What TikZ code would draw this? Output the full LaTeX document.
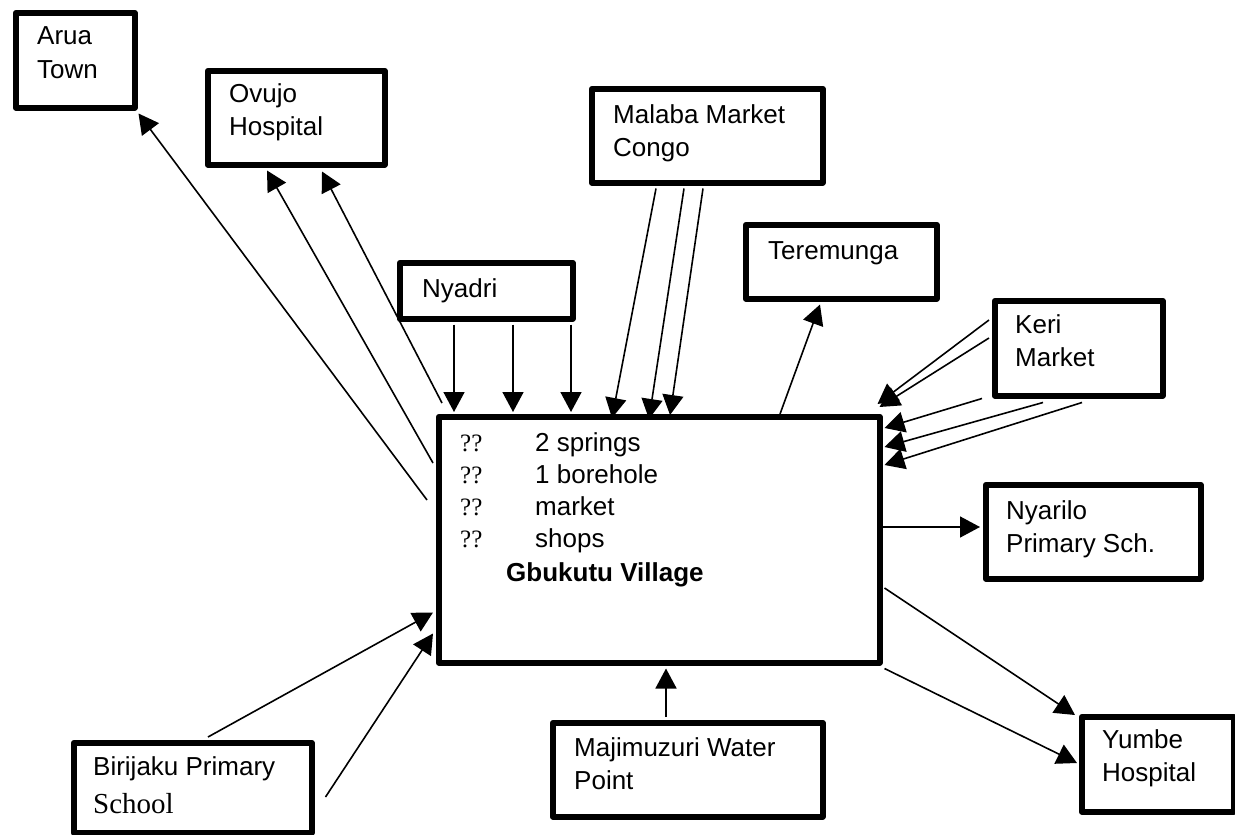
\documentclass[tikz,border=0pt]{standalone}
\usepackage{fontspec}
\setmainfont{Liberation Sans}
\newfontfamily\serifface{Liberation Serif}
\usetikzlibrary{arrows.meta,calc}
\newcommand{\twol}[2]{\begin{tabular}[t]{@{}l@{}}#1\\#2\end{tabular}}
\begin{document}
\begin{tikzpicture}[x=1pt,y=-1pt,
  place/.style={draw, line width=5.5pt, line join=round, inner sep=0pt, anchor=north west},
  lbl/.style={anchor=base west, inner sep=0pt, font=\fontsize{26pt}{33pt}\selectfont},
  qm/.style={anchor=base west, inner sep=0pt, font=\serifface\fontsize{25pt}{33pt}\selectfont},
  arr/.style={line width=1.6pt, -{Triangle[length=20pt,width=21pt]}}]
\useasboundingbox (0,0) rectangle (1235,835);

% boxes
\node[place, minimum width=119pt, minimum height=95pt] (arua) at (13,10) {};
\node[place, minimum width=177pt, minimum height=94pt] (ovujo) at (205,68) {};
\node[place, minimum width=231pt, minimum height=94pt] (malaba) at (589,86) {};
\node[place, minimum width=173pt, minimum height=56pt] (nyadri) at (397,260) {};
\node[place, minimum width=191pt, minimum height=74pt] (teremunga) at (743,222) {};
\node[place, minimum width=168pt, minimum height=95pt] (keri) at (992,298) {};
\node[place, minimum width=441pt, minimum height=246pt] (main) at (436,414) {};
\node[place, minimum width=215pt, minimum height=94pt] (nyarilo) at (983,482) {};
\node[place, minimum width=152pt, minimum height=95pt] (yumbe) at (1079,714) {};
\node[place, minimum width=270pt, minimum height=94pt] (maji) at (550,720) {};
\node[place, minimum width=238pt, minimum height=90pt] (birijaku) at (71,740) {};

% texts
\node[lbl] (tarua) at (37,45) {\twol{Arua}{Town}};
\node[lbl] (tovujo) at (229,102) {\twol{Ovujo}{Hospital}};
\node[lbl] (tmalaba) at (613,123) {\twol{Malaba Market}{Congo}};
\node[lbl] (tnyadri) at (422,297) {Nyadri};
\node[lbl] (ttere) at (768,259) {Teremunga};
\node[lbl] (tkeri) at (1015,333) {\twol{Keri}{Market}};
\node[lbl] (tnyarilo) at (1006,519) {\twol{Nyarilo}{Primary Sch.}};
\node[lbl] (tyumbe) at (1102,748) {\twol{Yumbe}{Hospital}};
\node[lbl] (tmaji) at (574,756) {\twol{Majimuzuri Water}{Point}};
\node[lbl] (tbiri) at (93,775) {Birijaku Primary};
\node[anchor=base west, inner sep=0pt, font=\serifface\fontsize{29pt}{33pt}\selectfont] (tschool) at (93,813) {School};

\node[qm] (q1) at (460,451) {??};
\node[qm] (q2) at (460,483) {??};
\node[qm] (q3) at (460,515) {??};
\node[qm] (q4) at (460,547) {??};
\node[lbl] (m1) at (535,451) {2 springs};
\node[lbl] (m2) at (535,483) {1 borehole};
\node[lbl] (m3) at (535,515) {market};
\node[lbl] (m4) at (535,547) {shops};
\node[lbl, font=\bfseries\fontsize{26pt}{33pt}\selectfont] (mname) at (506,581) {Gbukutu Village};

% connectors
\draw[arr] ($(main.north west)+(-9,86)$) -- ($(arua.south east)+(1,3)$);
\draw[arr] ($(main.north west)+(-3,49)$) -- ($(ovujo.south west)+(62,3)$);
\draw[arr] ($(main.north west)+(6,-11)$) -- ($(ovujo.south west)+(117,4)$);

\draw[arr] ($(nyadri.south west)+(57,3)$) -- ($(main.north west)+(18,-2)$);
\draw[arr] ($(nyadri.south west)+(116,3)$) -- ($(main.north west)+(77,-2)$);
\draw[arr] ($(nyadri.south west)+(174,3)$) -- ($(main.north west)+(135,-2)$);

\draw[arr] ($(malaba.south west)+(67,3)$) -- ($(main.north west)+(176,4)$);
\draw[arr] ($(malaba.south west)+(95,3)$) -- ($(main.north west)+(213,5)$);
\draw[arr] ($(malaba.south west)+(114,3)$) -- ($(main.north west)+(234,1)$);

\draw[arr] ($(main.north west)+(344,0)$) -- ($(teremunga.south west)+(77,3)$);

\draw[arr] ($(keri.north west)+(-3,22)$) -- ($(main.north east)+(-5,-10)$);
\draw[arr] ($(keri.north west)+(-3,40)$) -- ($(main.north east)+(-3,-7)$);
\draw[arr] ($(keri.south west)+(-10,0)$) -- ($(main.north east)+(2,14)$);
\draw[arr] ($(keri.south west)+(51,4)$) -- ($(main.north east)+(2,33)$);
\draw[arr] ($(keri.south west)+(90,4)$) -- ($(main.north east)+(2,51)$);

\draw[arr] ($(main.north east)+(0,113)$) -- ($(nyarilo.north west)+(-3,45)$);

\draw[arr] ($(main.north east)+(2,174)$) -- ($(yumbe.north west)+(-4,1)$);
\draw[arr] ($(main.south east)+(2,3)$) -- ($(yumbe.north west)+(-2,49)$);

\draw[arr] ($(maji.north west)+(116,-3)$) -- ($(main.south west)+(230,3)$);

\draw[arr] ($(birijaku.north west)+(137,-3)$) -- ($(main.south west)+(-3,-53)$);
\draw[arr] ($(birijaku.north east)+(11,57)$) -- ($(main.south west)+(-3,-32)$);
\end{tikzpicture}
\end{document}
